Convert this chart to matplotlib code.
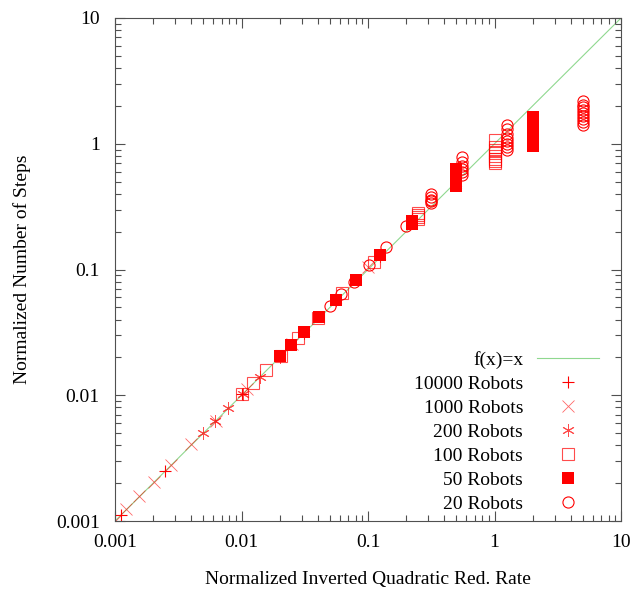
import numpy as np
import matplotlib
matplotlib.use('Agg')
import matplotlib.pyplot as plt
from matplotlib.ticker import LogLocator, FixedLocator, FixedFormatter

plt.rcParams['font.family'] = ['Liberation Serif', 'DejaVu Serif']
plt.rcParams['font.size'] = 14

# data
x_10000 = [0.01, 0.0025, 0.00111]
y_10000 = [0.0102, 0.0025, 0.00112]

x_1000 = [0.1, 0.025, 0.0111, 0.00625, 0.004, 0.00278, 0.00204, 0.00156, 0.00123, 0.001]
y_1000 = [0.105, 0.0255, 0.0113, 0.0063, 0.0041, 0.0028, 0.00205, 0.00157, 0.00124, 0.001]

x_200 = [0.5, 0.5, 0.125, 0.0556, 0.03125, 0.02, 0.0139, 0.0102, 0.0078, 0.00617, 0.005]
y_200 = [0.47, 0.49, 0.128, 0.057, 0.0315, 0.0202, 0.0141, 0.0103, 0.0079, 0.0062, 0.005]

x_100 = [1, 1, 1, 1, 1, 1, 1, 1, 0.25, 0.25, 0.25, 0.25,
         0.111, 0.0625, 0.04, 0.0278, 0.0204, 0.0156, 0.0123, 0.01]
y_100 = [0.70, 0.73, 0.76, 0.80, 0.85, 0.90, 0.95, 1.08, 0.25, 0.26, 0.27, 0.28,
         0.115, 0.065, 0.041, 0.0285, 0.0207, 0.016, 0.0125, 0.0102]

x_50 = [2, 2, 2, 2, 2, 2, 2, 2, 0.5, 0.5, 0.5, 0.5, 0.5, 0.5,
        0.222, 0.222, 0.125, 0.08, 0.0556, 0.0408, 0.03125, 0.0247, 0.02]
y_50 = [0.96, 1.05, 1.15, 1.25, 1.35, 1.45, 1.55, 1.62, 0.46, 0.5, 0.53, 0.56, 0.6, 0.63,
        0.23, 0.245, 0.13, 0.083, 0.057, 0.042, 0.032, 0.0252, 0.0205]

x_20 = [5, 5, 5, 5, 5, 5, 5, 5, 5,
        1.25, 1.25, 1.25, 1.25, 1.25, 1.25, 1.25, 1.25,
        0.556, 0.556, 0.556, 0.556, 0.556, 0.556,
        0.3125, 0.3125, 0.3125, 0.3125, 0.3125,
        0.2, 0.139, 0.102, 0.078, 0.0617, 0.05]
y_20 = [1.42, 1.5, 1.58, 1.65, 1.75, 1.85, 1.95, 2.05, 2.2,
        0.90, 0.95, 1.0, 1.05, 1.12, 1.2, 1.3, 1.42,
        0.56, 0.6, 0.63, 0.67, 0.72, 0.78,
        0.34, 0.35, 0.36, 0.38, 0.40,
        0.222, 0.15, 0.108, 0.08, 0.064, 0.051]

line_x = [0.001, 10]

red = '#ff0000'
fig = plt.figure(figsize=(6.33, 5.90), dpi=100)
ax = fig.add_axes([0.1817, 0.1169, 0.7994, 0.8526])

ax.plot(line_x, line_x, color='#8fd88f', lw=0.8, label='f(x)=x', zorder=1)
ax.plot(x_10000, y_10000, ls='none', marker='+', ms=9, mew=0.8, color=red,
        label='10000 Robots')
ax.plot(x_1000, y_1000, ls='none', marker='x', ms=8, mew=0.6, color=red, alpha=0.6,
        label='1000 Robots')
ax.plot(x_200, y_200, ls='none', marker=(6, 2, 0), ms=9, mew=0.7, color=red, alpha=0.7,
        label='200 Robots')
ax.plot(x_100, y_100, ls='none', marker='s', ms=8, mew=0.8, mfc='none', mec=red, alpha=0.7,
        label='100 Robots')
ax.plot(x_50, y_50, ls='none', marker='s', ms=8, mew=0, color=red,
        label='50 Robots')
ax.plot(x_20, y_20, ls='none', marker='o', ms=8, mew=0.8, mfc='none', mec=red,
        label='20 Robots')

ax.set_xscale('log')
ax.set_yscale('log')
ax.set_xlim(0.001, 10)
ax.set_ylim(0.001, 10)

major = [0.001, 0.01, 0.1, 1, 10]
labels = ['0.001', '0.01', '0.1', '1', '10']
for axis in (ax.xaxis, ax.yaxis):
    axis.set_major_locator(FixedLocator(major))
    axis.set_major_formatter(FixedFormatter(labels))
    axis.set_minor_locator(LogLocator(base=10, subs=np.arange(2, 10)))

ax.tick_params(which='both', direction='in', top=True, right=True, color='#505050')
ax.tick_params(which='major', length=7, width=0.8)
ax.tick_params(which='minor', length=4, width=0.8, labelleft=False, labelbottom=False)
ax.tick_params(axis='x', which='major', pad=9)
ax.tick_params(axis='y', which='major', pad=11)
for s in ax.spines.values():
    s.set_color('#505050')
    s.set_linewidth(0.8)

ax.set_xlabel('Normalized Inverted Quadratic Red. Rate', labelpad=15)
ax.set_ylabel('Normalized Number of Steps', labelpad=18)

leg = ax.legend(loc='lower right', bbox_to_anchor=(0.9565, 0.016), frameon=False,
                markerfirst=False, handlelength=3.2, handletextpad=0.7,
                labelspacing=0.33, borderpad=0, borderaxespad=0)
# right-justify the key texts like gnuplot does: redraw them as figure texts
fig.canvas.draw()
renderer = fig.canvas.get_renderer()
texts = leg.get_texts()
boxes = [t.get_window_extent(renderer) for t in texts]
x_right = max(b.x1 for b in boxes)
W, H = fig.bbox.width, fig.bbox.height
for t, b in zip(texts, boxes):
    fig.text(x_right / W, b.y0 / H, t.get_text(), ha='right', va='bottom',
             fontsize=t.get_fontsize())
    t.set_visible(False)

fig.savefig('out.png', dpi=100)
